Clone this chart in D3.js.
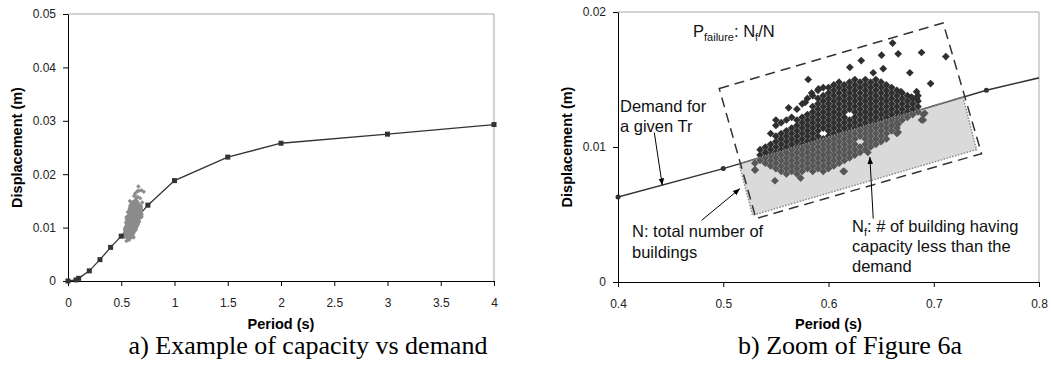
<!DOCTYPE html>
<html>
<head>
<meta charset="utf-8">
<script src="https://cdn.jsdelivr.net/npm/d3@7"></script>
<style>
body { margin: 0; background: #fff; }
svg { display: block; font-family: Arial, "Liberation Sans", sans-serif; }
</style>
</head>
<body>
<svg id="fig" width="1051" height="369"></svg>
<script>
// demand curve: period (s) vs displacement (m)
const demandT = [0, 0.075, 0.1, 0.2, 0.3, 0.4, 0.5, 0.75, 1, 1.5, 2, 3, 4];
const demandD = [0, 0.0002, 0.0005, 0.0019, 0.004, 0.0063, 0.0084, 0.0142, 0.0188, 0.0232, 0.0258, 0.0275, 0.0293];

const buildingColumns = [
    [0.530, [.0083, .0088]],
    [0.535, [.0090, .0094, .0098]],
    [0.540, [.0088, .0092, .0096, .0100]],
    [0.545, [.0086, .0090, .0094, .0098, .0102, .0110]],
    [0.550, [.0084, .0088, .0092, .0096, .0100, .0104, .0108, .0116, .0120]],
    [0.555, [.0082, .0086, .0090, .0094, .0098, .0102, .0106, .0110, .0118]],
    [0.560, [.0080, .0084, .0088, .0092, .0096, .0100, .0104, .0108, .0112, .0120]],
    [0.565, [.0082, .0086, .0090, .0094, .0098, .0102, .0106, .0110, .0114, .0122]],
    [0.570, [.0080, .0084, .0088, .0092, .0096, .0100, .0104, .0108, .0112, .0116, .0120, .0128]],
    [0.575, [.0082, .0086, .0090, .0094, .0098, .0102, .0106, .0110, .0114, .0118, .0122, .0132]],
    [0.580, [.0084, .0088, .0092, .0096, .0100, .0104, .0108, .0112, .0116, .0120, .0124, .0136]],
    [0.585, [.0082, .0086, .0090, .0094, .0098, .0102, .0106, .0110, .0114, .0118, .0122, .0126, .0130, .0138]],
    [0.590, [.0084, .0088, .0092, .0096, .0100, .0104, .0108, .0112, .0116, .0120, .0124, .0128, .0132, .0136, .0142]],
    [0.595, [.0082, .0086, .0090, .0094, .0098, .0102, .0106, .0114, .0118, .0122, .0126, .0130, .0134, .0138, .0144]],
    [0.600, [.0084, .0088, .0092, .0096, .0100, .0104, .0108, .0112, .0116, .0120, .0124, .0128, .0132, .0136, .0140, .0144]],
    [0.605, [.0086, .0090, .0094, .0098, .0102, .0106, .0110, .0114, .0118, .0122, .0126, .0130, .0134, .0138, .0142, .0146]],
    [0.610, [.0088, .0092, .0096, .0100, .0104, .0108, .0112, .0116, .0120, .0124, .0128, .0132, .0136, .0140, .0144, .0148]],
    [0.615, [.0082, .0090, .0094, .0098, .0102, .0106, .0110, .0114, .0118, .0122, .0126, .0130, .0134, .0138, .0142, .0146]],
    [0.620, [.0092, .0096, .0100, .0104, .0108, .0112, .0116, .0120, .0128, .0132, .0136, .0140, .0144, .0148]],
    [0.625, [.0094, .0098, .0102, .0106, .0110, .0114, .0118, .0122, .0126, .0130, .0134, .0138, .0142, .0146, .0150]],
    [0.630, [.0096, .0100, .0108, .0112, .0116, .0120, .0124, .0128, .0132, .0136, .0140, .0144, .0148]],
    [0.635, [.0098, .0102, .0106, .0110, .0114, .0118, .0122, .0126, .0130, .0134, .0138, .0142, .0146, .0150]],
    [0.640, [.0100, .0104, .0108, .0112, .0116, .0120, .0124, .0128, .0132, .0136, .0140, .0144, .0148]],
    [0.645, [.0102, .0106, .0110, .0114, .0118, .0122, .0126, .0130, .0134, .0138, .0142, .0146, .0150]],
    [0.650, [.0104, .0108, .0112, .0116, .0120, .0124, .0128, .0132, .0136, .0140, .0144, .0148]],
    [0.655, [.0106, .0110, .0114, .0118, .0122, .0126, .0130, .0134, .0138, .0142, .0146]],
    [0.660, [.0112, .0116, .0120, .0124, .0128, .0132, .0136, .0140, .0144]],
    [0.665, [.0110, .0114, .0118, .0122, .0126, .0130, .0134, .0138, .0142]],
    [0.670, [.0120, .0124, .0128, .0132, .0136, .0140]],
    [0.675, [.0122, .0126, .0130, .0134, .0138]],
    [0.680, [.0124, .0128, .0132, .0136]],
    [0.685, [.0126, .0130, .0134, .0138]],
    [0.690, [.0120, .0124]]
];

// scattered buildings away from the main cloud: [period, displacement]
const outlierBuildings = [
    [0.6609, .0177], [0.6504, .0168], [0.6662, .0169], [0.6884, .0170], [0.7115, .0167],
    [0.6311, .0164], [0.6203, .0159], [0.6425, .0155], [0.6773, .0155], [0.6970, .0147],
    [0.5807, .0150], [0.5621, .0129], [0.5779, .0133], [0.5840, .0140], [0.5905, .0143],
    [0.6520, .0158], [0.6688, .0141], [0.6837, .0141], [0.6837, .0136], [0.6789, .0137],
    [0.6915, .0125], [0.6884, .0120], [0.6662, .0111], [0.6662, .0117], [0.6374, .0096],
    [0.5491, .0075], [0.5735, .0077], [0.6140, .0082], [0.5304, .0083]
];

const leftXTicks = [0, 0.5, 1, 1.5, 2, 2.5, 3, 3.5, 4];
const leftYTicks = [0, 0.01, 0.02, 0.03, 0.04, 0.05];
const rightXTicks = [0.4, 0.5, 0.6, 0.7, 0.8];
const rightYTicks = [0, 0.01, 0.02];

// fig b: dashed envelope of all buildings and the shaded failure part, in data units
const boxCorners = [[0.4962, 0.01433], [0.7089, 0.01919], [0.7454, 0.00951], [0.5311, 0.0047]];
const failCorners = [[0.5150, 0.00877], [0.7277, 0.01372], [0.7406, 0.00981], [0.5279, 0.00494]];

const arrowsB = [
    {from: [0.4345, 0.01107], to: [0.4421, 0.00716]},
    {from: [0.4795, 0.00457], to: [0.5159, 0.00692]},
    {from: [0.6425, 0.00470], to: [0.6393, 0.00926]}
];

const demand = demandT.map((t, i) => ({t, d: demandD[i]}));
const buildings = buildingColumns.flatMap(([t, ds]) => ds.map(d => ({t, d})))
    .concat(outlierBuildings.map(([t, d]) => ({t, d})));

const svg = d3.select("#fig");
const fmt = d3.format("~g");

const defs = svg.append("defs");
defs.append("marker")
    .attr("id", "arrow")
    .attr("viewBox", "0 0 10 10")
    .attr("refX", 10).attr("refY", 5)
    .attr("markerWidth", 7).attr("markerHeight", 7)
    .attr("markerUnits", "userSpaceOnUse")
    .attr("orient", "auto")
    .append("path")
    .attr("d", "M0,1L10,5L0,9Z")
    .attr("fill", "#000");

const drawAxes = (x, y, xTicks, yTicks, xTitle, yTitle, caption) => {
    const [x0, x1] = x.range();
    const [y0, y1] = y.range();

    svg.append("path")
        .attr("d", `M${x0},${y1}H${x1}V${y0}`)
        .attr("fill", "none")
        .attr("stroke", "#a8a8a8");

    const ax = svg.append("g")
        .attr("transform", `translate(0,${y0})`)
        .call(d3.axisBottom(x).tickValues(xTicks).tickFormat(fmt).tickSize(5).tickSizeOuter(0).tickPadding(12));
    const ay = svg.append("g")
        .attr("transform", `translate(${x0},0)`)
        .call(d3.axisLeft(y).tickValues(yTicks).tickFormat(fmt).tickSize(5).tickSizeOuter(0).tickPadding(7));

    [ax, ay].forEach(a => {
        a.attr("font-size", 12).attr("font-family", "Arial, 'Liberation Sans', sans-serif");
        a.selectAll("path, line").attr("stroke", "#000");
        a.selectAll("text").attr("fill", "#222");
    });

    svg.append("text")
        .attr("x", (x0 + x1) / 2)
        .attr("y", 329)
        .attr("text-anchor", "middle")
        .attr("font-size", 14.5)
        .attr("font-weight", "bold")
        .text(xTitle);

    svg.append("text")
        .attr("transform", `translate(${x0 - 46},${(y0 + y1) / 2}) rotate(-90)`)
        .attr("text-anchor", "middle")
        .attr("font-size", 14.5)
        .attr("font-weight", "bold")
        .text(yTitle);

    svg.append("text")
        .attr("x", caption.x)
        .attr("y", 354)
        .attr("text-anchor", "middle")
        .attr("font-family", "'Liberation Serif', 'Times New Roman', serif")
        .attr("font-size", 26)
        .text(caption.text);
};

// ---- a) capacity vs demand ----
const xA = d3.scaleLinear().domain([0, 4]).range([68, 494]);
const yA = d3.scaleLinear().domain([0, 0.05]).range([281, 14]);

drawAxes(xA, yA, leftXTicks, leftYTicks, "Period (s)", "Displacement (m)",
    {x: 308, text: "a) Example of capacity vs demand"});

svg.append("path")
    .datum(demand)
    .attr("fill", "none")
    .attr("stroke", "#333")
    .attr("stroke-width", 1.3)
    .attr("d", d3.line().x(d => xA(d.t)).y(d => yA(d.d)));

const smallDiamond = d3.symbol(d3.symbolSquare, 10);
svg.append("g")
    .selectAll("path")
    .data(buildings)
    .join("path")
    .attr("transform", d => `translate(${xA(d.t)},${yA(d.d)}) rotate(45)`)
    .attr("d", smallDiamond)
    .attr("fill", "#8c8c8c");

svg.append("g")
    .selectAll("rect")
    .data(demand)
    .join("rect")
    .attr("x", d => xA(d.t) - 2.5)
    .attr("y", d => yA(d.d) - 2.5)
    .attr("width", 5)
    .attr("height", 5)
    .attr("fill", "#333");

// ---- b) zoom ----
const xB = d3.scaleLinear().domain([0.4, 0.8]).range([618, 1039]);
const yB = d3.scaleLinear().domain([0, 0.02]).range([282, 12]);

drawAxes(xB, yB, rightXTicks, rightYTicks, "Period (s)", "Displacement (m)",
    {x: 850, text: "b) Zoom of Figure 6a"});

defs.append("clipPath")
    .attr("id", "clipB")
    .append("rect")
    .attr("x", 618).attr("y", 12)
    .attr("width", 1039 - 618).attr("height", 282 - 12);

svg.append("path")
    .datum(demand)
    .attr("clip-path", "url(#clipB)")
    .attr("fill", "none")
    .attr("stroke", "#333")
    .attr("stroke-width", 1.5)
    .attr("d", d3.line().x(d => xB(d.t)).y(d => yB(d.d)));

const diamond = d3.symbol(d3.symbolSquare, 30);
svg.append("g")
    .selectAll("path")
    .data(buildings)
    .join("path")
    .attr("transform", d => `translate(${xB(d.t)},${yB(d.d)}) rotate(45)`)
    .attr("d", diamond)
    .attr("fill", "#2f2f2f");

const corner = c => [xB(c[0]), yB(c[1])];

svg.append("polygon")
    .attr("points", failCorners.map(corner).join(" "))
    .attr("fill", "#9a9a9a")
    .attr("fill-opacity", 0.37)
    .attr("stroke", "#8a8a8a")
    .attr("stroke-width", 1.5)
    .attr("stroke-dasharray", "1.5,1.5");

svg.append("g")
    .selectAll("circle")
    .data(demand.filter(d => d.t >= 0.4 && d.t <= 0.8))
    .join("circle")
    .attr("cx", d => xB(d.t))
    .attr("cy", d => yB(d.d))
    .attr("r", 2.5)
    .attr("fill", "#333");

svg.append("polygon")
    .attr("points", boxCorners.map(corner).join(" "))
    .attr("fill", "none")
    .attr("stroke", "#333")
    .attr("stroke-width", 1.5)
    .attr("stroke-dasharray", "10,6");

svg.append("g")
    .selectAll("line")
    .data(arrowsB)
    .join("line")
    .attr("x1", d => xB(d.from[0])).attr("y1", d => yB(d.from[1]))
    .attr("x2", d => xB(d.to[0])).attr("y2", d => yB(d.to[1]))
    .attr("stroke", "#000")
    .attr("marker-end", "url(#arrow)");

const note = (x, y) => svg.append("text")
    .attr("x", x).attr("y", y)
    .attr("font-size", 16.5)
    .attr("fill", "#111");

const pf = note(693, 37);
pf.append("tspan").text("P");
pf.append("tspan").attr("font-size", 11).attr("dy", 4).text("failure");
pf.append("tspan").attr("dy", -4).text(": N");
pf.append("tspan").attr("font-size", 11).attr("dy", 4).text("f");
pf.append("tspan").attr("dy", -4).text("/N");

note(620, 112).text("Demand for");
note(620, 132).text("a given Tr");

note(632, 237).text("N: total number of");
note(632, 258).text("buildings");

const nf = note(852, 232);
nf.append("tspan").text("N");
nf.append("tspan").attr("font-size", 11).attr("dy", 4).text("f");
nf.append("tspan").attr("dy", -4).text(": # of building having");
note(852, 252).text("capacity less than the");
note(852, 272).text("demand");
</script>
</body>
</html>
